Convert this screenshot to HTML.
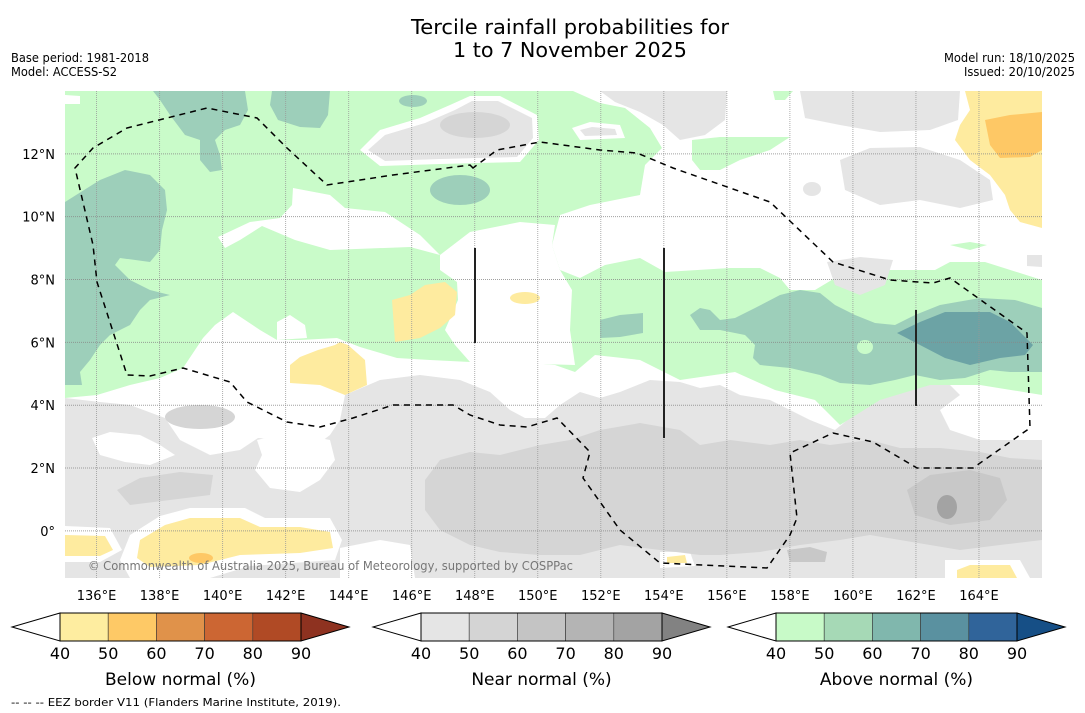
<!DOCTYPE html>
<html><head><meta charset="utf-8">
<style>
html,body{margin:0;padding:0;background:#fff;}
body{width:1085px;height:713px;position:relative;overflow:hidden;font-family:"Liberation Sans","DejaVu Sans",sans-serif;}
svg{position:absolute;left:0;top:0;}
</style></head>
<body>
<svg id="chart" width="1085" height="713" viewBox="0 0 1085 713" xmlns="http://www.w3.org/2000/svg">
<text x="570" y="34" font-size="20" text-anchor="middle" font-family="DejaVu Sans, sans-serif" textLength="318" lengthAdjust="spacingAndGlyphs">Tercile rainfall probabilities for</text>
<text x="570" y="57" font-size="20" text-anchor="middle" font-family="DejaVu Sans, sans-serif" textLength="234" lengthAdjust="spacingAndGlyphs">1 to 7 November 2025</text>
<text x="11" y="62" font-size="12" font-family="DejaVu Sans, sans-serif" textLength="138" lengthAdjust="spacingAndGlyphs">Base period: 1981-2018</text>
<text x="11" y="76" font-size="12" font-family="DejaVu Sans, sans-serif" textLength="106" lengthAdjust="spacingAndGlyphs">Model: ACCESS-S2</text>
<text x="1075" y="62" font-size="12" text-anchor="end" font-family="DejaVu Sans, sans-serif" textLength="131" lengthAdjust="spacingAndGlyphs">Model run: 18/10/2025</text>
<text x="1075" y="76" font-size="12" text-anchor="end" font-family="DejaVu Sans, sans-serif" textLength="111" lengthAdjust="spacingAndGlyphs">Issued: 20/10/2025</text>

<defs><clipPath id="mapclip"><rect x="65" y="91" width="977" height="487"/></clipPath></defs>
<g id="map" clip-path="url(#mapclip)">
<rect x="65" y="91" width="977" height="487" fill="#fff"/>
<polygon fill="#e5e5e5" points="65,398 100,402 130,405 165,418 180,440 210,455 240,450 258,438 290,440 310,450 330,435 340,420 345,395 380,380 420,375 460,380 490,392 510,410 525,418 545,418 560,405 580,392 600,398 620,392 650,380 680,382 700,388 720,385 740,395 770,400 790,410 810,420 835,430 850,418 870,405 900,390 925,378 950,385 960,395 940,410 950,430 980,440 1010,440 1042,440 1042,578 65,578"/>
<polygon fill="#fff" points="92,438 110,432 140,435 160,445 175,455 150,465 125,462 100,455"/>
<polygon fill="#fff" points="257,440 290,432 330,440 335,460 320,480 300,492 270,488 255,470 262,455"/>
<polygon fill="#fff" points="130,535 160,516 190,508 245,508 265,518 330,518 342,540 335,560 250,566 210,578 130,578 120,560"/>
<polygon fill="#fff" points="65,526 110,528 122,550 100,562 65,562"/>
<polygon fill="#fff" points="340,548 380,540 410,545 415,578 340,578"/>
<polygon fill="#fff" points="660,552 690,552 695,566 660,568"/>
<polygon fill="#fff" points="945,560 1020,560 1030,578 945,578"/>
<polygon fill="#d5d5d5" points="425,480 440,460 470,452 500,455 540,445 570,440 600,430 640,423 680,430 700,445 730,440 770,445 800,440 830,445 870,440 900,448 940,448 980,452 1010,458 1042,460 1042,540 1000,545 960,550 930,545 900,540 870,535 840,540 800,545 760,552 720,555 700,555 660,550 620,545 580,555 540,555 500,552 470,545 440,530 425,510"/>
<polygon fill="#d5d5d5" points="117,490 140,478 180,472 213,475 210,495 170,500 130,505"/>
<ellipse cx="200" cy="417" rx="35" ry="12" fill="#d5d5d5"/>
<polygon fill="#c8c8c8" points="907,490 930,475 970,470 1000,478 1007,500 990,520 950,525 915,515"/>
<polygon fill="#c8c8c8" points="787,550 810,547 827,552 825,562 790,562"/>
<ellipse cx="947" cy="507" rx="10" ry="12" fill="#a3a3a3"/>

<polygon fill="#c9fbc9" points="65,91 573,91 600,103 625,108 650,128 662,148 645,165 640,195 590,205 560,215 552,245 560,270 580,278 605,265 640,258 665,272 730,268 760,268 780,278 790,290 815,290 835,278 870,270 935,270 950,262 985,262 1042,280 1042,395 980,385 930,385 880,400 840,425 815,400 775,390 735,372 680,380 640,360 595,355 575,372 555,365 520,362 470,362 430,360 397,358 360,347 337,338 300,340 277,340 260,330 233,312 215,325 203,338 183,368 160,378 130,385 97,395 65,398"/>
<polygon fill="#fff" points="440,255 470,232 520,222 555,225 552,245 560,270 572,290 570,330 575,365 470,362 455,345 445,330 458,300 457,282 440,270"/>
<polygon fill="#fff" points="293,188 330,195 345,208 385,212 420,235 440,255 410,247 330,250 295,240 262,226 240,240 225,248 218,237 250,222 280,218 292,205"/>
<polygon fill="#fff" points="277,322 290,315 305,325 307,338 277,340"/>
<polygon fill="#fff" points="360,150 380,130 420,118 450,105 470,96 500,96 537,115 539,140 520,162 440,164 380,166"/>
<polygon fill="#e5e5e5" points="368,150 385,135 425,123 455,110 472,101 498,101 532,118 533,138 517,157 440,159 385,161"/>
<ellipse cx="475" cy="125" rx="35" ry="13" fill="#d5d5d5"/>
<polygon fill="#fff" points="65,95 80,96 80,104 65,104"/>
<polygon fill="#e5e5e5" points="600,91 727,91 725,120 705,135 680,140 663,125 640,112 615,102"/>
<polygon fill="#fff" points="572,128 590,122 620,125 625,138 580,140"/>
<polygon fill="#e5e5e5" points="580,130 592,127 615,129 617,135 585,136"/>
<polygon fill="#e5e5e5" points="800,91 960,91 958,120 930,130 880,132 840,125 805,118"/>
<polygon fill="#e5e5e5" points="840,160 870,148 920,147 960,160 990,180 993,200 960,208 920,200 880,205 845,190"/>
<ellipse cx="812" cy="189" rx="9" ry="7" fill="#e5e5e5"/>
<polygon fill="#e5e5e5" points="827,262 860,257 893,260 885,285 860,295 835,285"/>
<polygon fill="#e5e5e5" points="1027,255 1042,255 1042,267 1027,266"/>
<polygon fill="#c9fbc9" points="773,91 793,91 785,100 775,100"/>
<polygon fill="#c9fbc9" points="692,140 720,137 790,137 770,150 740,160 720,170 700,170 692,160"/>
<polygon fill="#c9fbc9" points="950,245 970,242 987,245 970,250"/>
<polygon fill="#9dcfba" points="65,202 100,180 125,170 150,175 165,190 167,210 162,230 160,250 150,262 120,258 115,265 130,280 150,290 170,295 150,300 140,310 130,325 110,335 100,345 90,360 80,372 82,385 65,385"/>
<polygon fill="#9dcfba" points="153,91 245,91 248,110 240,125 225,130 215,140 220,155 222,170 210,172 200,160 200,140 185,135 170,115 160,100"/>
<polygon fill="#9dcfba" points="272,91 330,91 328,115 320,128 300,127 278,120 270,105"/>
<ellipse cx="413" cy="101" rx="14" ry="6" fill="#9dcfba"/>
<ellipse cx="460" cy="190" rx="30" ry="15" fill="#9dcfba"/>
<polygon fill="#9dcfba" points="690,315 700,308 710,310 720,320 735,318 755,308 780,295 800,290 820,293 835,305 855,315 875,323 895,325 915,315 940,305 980,298 1015,300 1042,308 1042,372 1010,372 990,370 965,378 940,380 915,375 895,380 870,385 840,383 820,375 790,368 760,365 753,358 755,345 745,335 720,330 700,330"/>
<ellipse cx="865" cy="347" rx="8" ry="7" fill="#c9fbc9"/>
<polygon fill="#9dcfba" points="600,320 620,315 643,313 643,333 620,337 600,338"/>
<polygon fill="#6ca3a5" points="897,333 920,322 945,312 990,312 1010,322 1033,345 1025,355 1000,358 970,365 945,358 920,345"/>
<polygon fill="#feeb9f" points="392,300 410,295 425,285 445,282 457,292 455,315 440,328 420,338 395,342"/>
<polygon fill="#feeb9f" points="290,365 300,357 318,350 335,345 340,342 348,345 365,360 367,385 345,395 320,385 290,383"/>
<ellipse cx="525" cy="298" rx="15" ry="6" fill="#feeb9f"/>
<polygon fill="#feeb9f" points="140,540 165,525 190,518 240,518 260,527 300,527 330,532 333,548 300,553 240,555 200,565 150,567 137,558"/>
<polygon fill="#feeb9f" points="65,535 105,536 113,550 100,556 65,556"/>
<polygon fill="#feeb9f" points="957,570 970,565 1010,565 1017,578 957,578"/>
<polygon fill="#feeb9f" points="667,557 685,555 687,563 667,563"/>
<polygon fill="#feeb9f" points="965,91 1042,91 1042,228 1020,222 1010,210 1005,195 990,175 970,160 955,140 960,125 970,110"/>
<polygon fill="#fec865" points="985,120 1010,115 1042,112 1042,150 1030,157 1000,158 990,145"/>
<ellipse cx="201" cy="558" rx="12" ry="5" fill="#fec865"/>
<g id="grid"></g>
<path fill="none" stroke="#000" stroke-width="1.5" stroke-dasharray="6,5" d="M473,168 L470,165 L393,175 L327,185 L287,148 L257,118 L207,108 L167,118 L127,128 L93,148 L75,168 L93,245 L97,282 L127,375 L150,376 L183,368 L230,382 L247,402 L287,422 L320,427 L353,418 L393,405 L453,405 L470,415 L500,425 L527,427 L557,418 L590,452 L583,478 L620,530 L660,563 L767,568 L790,535 L797,518 L790,453 L833,433 L873,442 L917,468 L973,468 L1030,428 L1027,333 L950,278 L933,283 L890,280 L833,262 L770,202 L673,168 L637,153 L600,150 L540,142 L497,150 Z"/>
<line x1="475" y1="248" x2="475" y2="343" stroke="#222" stroke-width="2"/>
<line x1="664" y1="248" x2="664" y2="438" stroke="#222" stroke-width="2"/>
<line x1="916" y1="310" x2="916" y2="406" stroke="#222" stroke-width="2"/>
<text x="88" y="570" font-size="12" fill="#777" font-family="DejaVu Sans, sans-serif" textLength="485" lengthAdjust="spacingAndGlyphs">© Commonwealth of Australia 2025, Bureau of Meteorology, supported by COSPPac</text>
</g>
<g id="axes"></g>
<g id="bars"></g>
<text x="11" y="706" font-size="11" font-family="DejaVu Sans, sans-serif" textLength="330" lengthAdjust="spacingAndGlyphs">--  --  -- EEZ border V11 (Flanders Marine Institute, 2019).</text>
</svg>
<script>
const lonTicks=[136,138,140,142,144,146,148,150,152,154,156,158,160,162,164];
const latTicks=[12,10,8,6,4,2,0];
const cbTicks=[40,50,60,70,80,90];
const belowColors=["#feeda0","#fec966","#e0924a","#cc6633","#b04a25"];
const nearColors=["#e5e5e5","#d4d4d4","#c4c4c4","#b4b4b4","#a3a3a3"];
const aboveColors=["#c8fac8","#a6d9b6","#80b7ad","#5a91a0","#30649a"];
const cbTitles=["Below normal (%)","Near normal (%)","Above normal (%)"];
const cbTips=[["#fff","#8e3220"],["#fff","#828282"],["#fff","#164f86"]];
const NS="http://www.w3.org/2000/svg";
const lonMin=135,lonMax=166,latMin=-1.5,latMax=14;
const mx0=65,mx1=1042,my0=91,my1=578;
function xLon(l){return mx0+(l-lonMin)/(lonMax-lonMin)*(mx1-mx0);}
function yLat(l){return my0+(latMax-l)/(latMax-latMin)*(my1-my0);}
function mk(tag,attrs,parent){const e=document.createElementNS(NS,tag);for(const k in attrs)e.setAttribute(k,attrs[k]);parent.appendChild(e);return e;}
const grid=document.getElementById('grid');
const axes=document.getElementById('axes');
lonTicks.forEach(l=>{
  const x=xLon(l);
  const ln=mk('line',{x1:x,y1:my0,x2:x,y2:my1,stroke:'#999','stroke-width':1,'stroke-dasharray':'1,1','stroke-opacity':0.8},grid);
  
  
  const t=mk('text',{x:x,y:600,'font-size':13,'text-anchor':'middle','font-family':'DejaVu Sans, sans-serif'},axes);
  t.textContent=l+'°E';
  
  
});
latTicks.forEach(l=>{
  const y=yLat(l);
  const ln=mk('line',{x1:mx0,y1:y,x2:mx1,y2:y,stroke:'#888','stroke-width':1,'stroke-dasharray':'1,1','stroke-opacity':0.8},grid);
  
  
  const t=mk('text',{x:55,y:y+5,'font-size':13,'text-anchor':'end','font-family':'DejaVu Sans, sans-serif'},axes);
  t.textContent=l===0?'0°':l+'°N';
  
  
});
const bars=document.getElementById('bars');
const barX=[60,421,776];
const palettes=[belowColors,nearColors,aboveColors];
const segW=48.2,by0=613,by1=641;
palettes.forEach((cols,i)=>{
  const x0=barX[i],x1=x0+segW*cols.length,ym=(by0+by1)/2;
  const g=mk('g',{},bars);
  
  
  mk('polygon',{points:`${x0},${by0} ${x0-48},${ym} ${x0},${by1}`,fill:cbTips[i][0],stroke:'#000','stroke-width':1},g);
  mk('polygon',{points:`${x1},${by0} ${x1+48},${ym} ${x1},${by1}`,fill:cbTips[i][1],stroke:'#000','stroke-width':1},g);
  cols.forEach((c,j)=>{
    const r=mk('rect',{x:x0+j*segW,y:by0,width:segW,height:by1-by0,fill:c,stroke:'#333','stroke-width':0.6},g);
    
    
  });
  mk('rect',{x:x0,y:by0,width:x1-x0,height:by1-by0,fill:'none',stroke:'#000','stroke-width':1},g);
  cbTicks.forEach((v,j)=>{
    const t=mk('text',{x:x0+j*segW,y:659,'font-size':16,'text-anchor':'middle','font-family':'DejaVu Sans, sans-serif'},g);
    t.textContent=v;
    
    
  });
  const tt=mk('text',{x:(x0+x1)/2,y:685,'font-size':17,'text-anchor':'middle','font-family':'DejaVu Sans, sans-serif'},g);
  tt.textContent=cbTitles[i];
  
  
});
</script>
</body></html>
